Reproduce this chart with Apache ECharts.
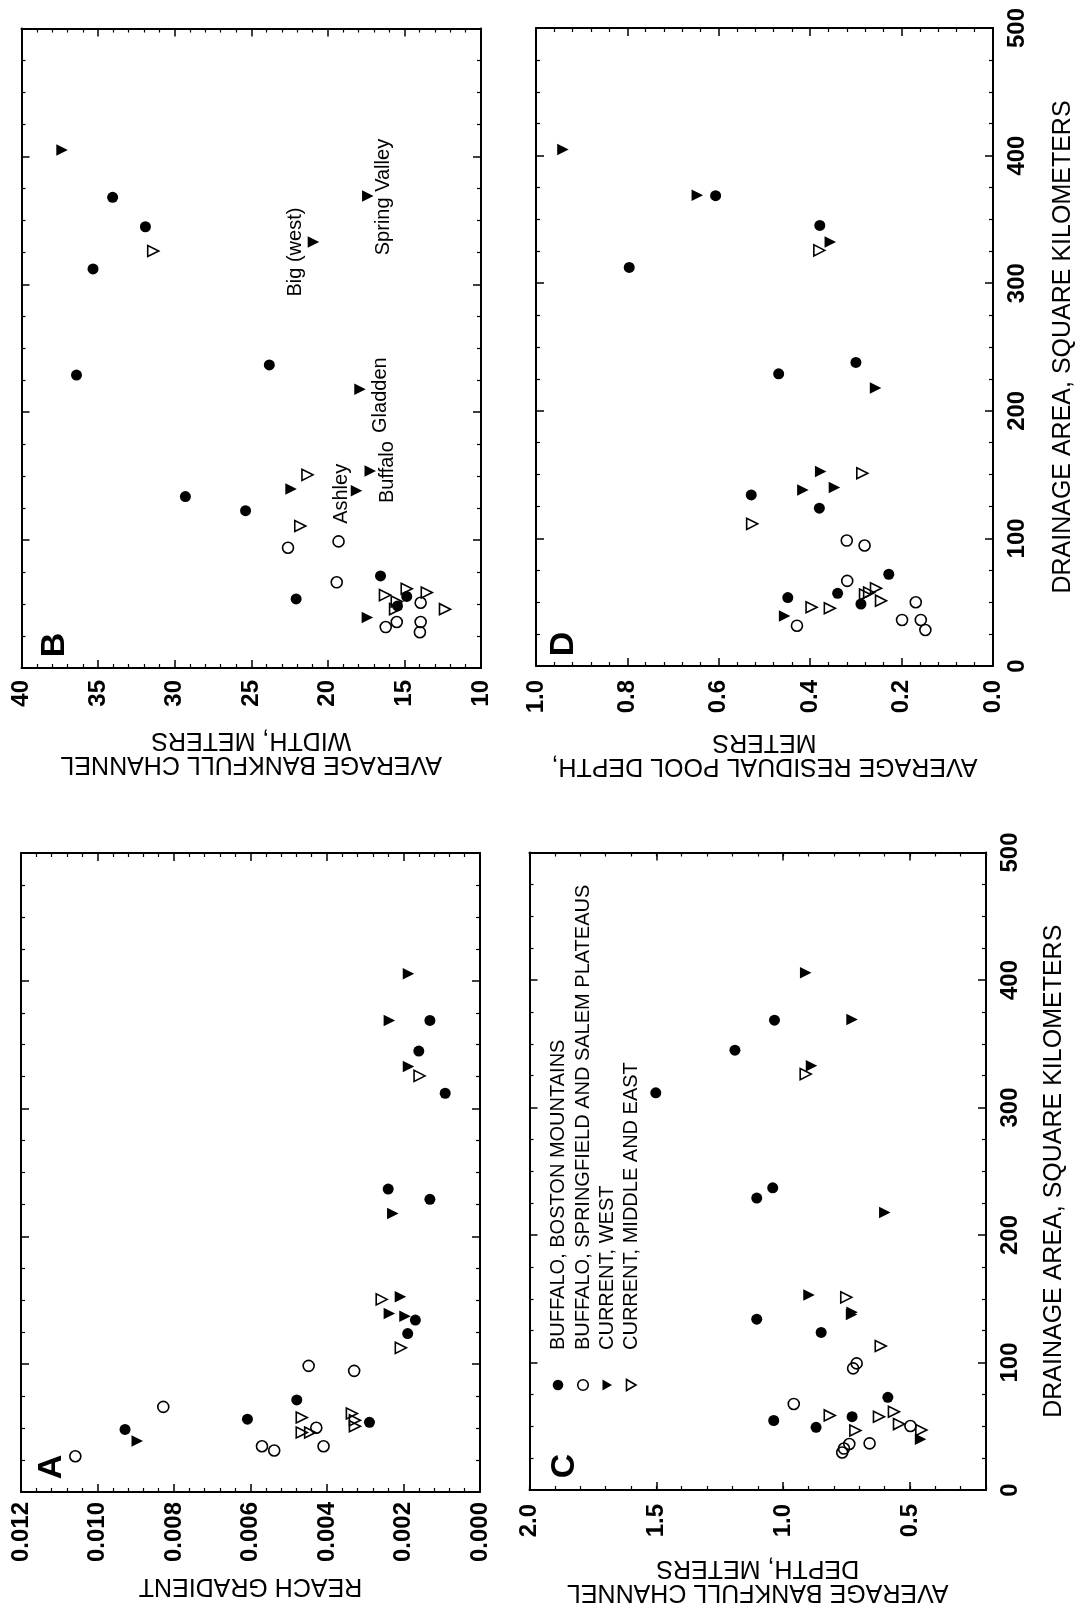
<!DOCTYPE html>
<html>
<head>
<meta charset="utf-8">
<script src="https://cdn.jsdelivr.net/npm/echarts@6/dist/echarts.min.js"></script>
<style>
html,body{margin:0;padding:0;background:#fff;}
#chart{width:1081px;height:1616px;}
</style>
</head>
<body>
<div id="chart"></div>
<script>
// ---------- DATA: [drainage area (km²), measured value] ----------
// A: reach gradient
const bmGradient  = [[369,0.00131],[345,0.00160],[312,0.00091],[237,0.00240],[229,0.00131],[134.5,0.00169],[124,0.00189],[72,0.00479],[57,0.00608],[54.5,0.00289],[49,0.00928]];
const ssGradient  = [[98.7,0.00448],[94.8,0.00329],[66.6,0.00828],[50.3,0.00428],[35.8,0.00570],[32.5,0.00538],[35.8,0.00409],[28,0.01058]];
const cwGradient  = [[405.5,0.00187],[369,0.00237],[333,0.00187],[218,0.00228],[152.7,0.00208],[139.7,0.00237],[137.6,0.00196],[40,0.00896]];
const cmeGradient = [[325.6,0.00158],[150.7,0.00257],[112.8,0.00207],[58.3,0.00466],[61.4,0.00335],[56.2,0.00327],[51.5,0.00327],[46.5,0.00466],[46.5,0.00444]];
// B: average bankfull channel width, meters
const bmWidth  = [[368,34.05],[345,31.91],[312,35.33],[237,23.82],[229,36.41],[134,29.30],[123,25.37],[72,16.56],[56,14.85],[54,22.07],[48.5,15.45]];
const ssWidth  = [[94,22.60],[99,19.30],[67,19.42],[51,13.94],[32,16.22],[36,15.50],[36,13.94],[28,13.99]];
const cwWidth  = [[405,37.35],[369,17.39],[333,20.94],[218,17.9],[154,17.23],[140,22.40],[138.5,18.13],[39.5,17.42]];
const cwWidthNames = ['', 'Spring Valley', 'Big (west)', 'Gladden', 'Buffalo', '', 'Ashley', ''];
const cmeWidth = [[326,31.40],[151,21.33],[111,21.80],[57,16.27],[62,14.85],[59,13.54],[52,15.50],[46,15.61],[46,12.35]];
// C: average bankfull channel depth, meters
const bmDepth  = [[368.5,1.034],[345,1.190],[311.5,1.502],[237,1.041],[229,1.104],[134,1.104],[123.6,0.850],[72.7,0.587],[57.5,0.728],[54.5,1.037],[49.2,0.870]];
const ssDepth  = [[99.3,0.710],[95.4,0.724],[67.5,0.958],[50.2,0.498],[36.1,0.739],[32.5,0.760],[36.6,0.659],[29.4,0.767]];
const cwDepth  = [[405.6,0.911],[369.1,0.728],[332.7,0.888],[217.7,0.599],[152.9,0.898],[139.5,0.728],[137.6,0.730],[39.8,0.458]];
const cmeDepth = [[326.2,0.911],[151.1,0.751],[112.9,0.615],[58.5,0.816],[61.4,0.563],[57.5,0.622],[51.7,0.543],[46.7,0.715],[47,0.455]];
// D: average residual pool depth, meters
const bmPool  = [[368.6,0.607],[345.3,0.379],[312.4,0.796],[237.9,0.300],[229,0.469],[134.1,0.529],[123.7,0.380],[71.9,0.228],[57,0.340],[53.6,0.449],[48.6,0.289]];
const ssPool  = [[98.3,0.320],[94.4,0.281],[66.7,0.319],[50,0.169],[36.1,0.199],[36.1,0.158],[28.2,0.148],[31.6,0.429]];
const cwPool  = [[404.7,0.941],[368.9,0.647],[332.3,0.356],[217.8,0.257],[152.4,0.377],[138,0.416],[139.8,0.347],[39.2,0.456]];
const cmePool = [[325.7,0.380],[151.1,0.286],[111.4,0.527],[57.5,0.271],[60.9,0.256],[56,0.280],[51.2,0.245],[46,0.397],[45.3,0.357]];

const legendLabels = ['BUFFALO, BOSTON MOUNTAINS','BUFFALO, SPRINGFIELD AND SALEM PLATEAUS','CURRENT, WEST','CURRENT, MIDDLE AND EAST'];
const depthTickLabels = [0.5, 1.0, 1.5, 2.0];
const areaTitle = 'DRAINAGE AREA, SQUARE KILOMETERS';

// ---------- STYLE ----------
const FONT = '"Liberation Sans", Arial, Helvetica, sans-serif';
const BLACK = '#000';
const annotationShift = { 'Big (west)': [-18, 10], 'Spring Valley': [16, 1], 'Gladden': [20, 6], 'Buffalo': [17, 1], 'Ashley': [-15, 3] };

const panels = [
  { letter:'A', grid:{left:21, top:853, width:459, height:639},
    x:{min:0, max:0.012, interval:0.002, minorSplit:5, fmt:v=>v.toFixed(3), name:'REACH GRADIENT', nameGap:82, margin:10},
    areaLabels:false, data:[bmGradient, ssGradient, cwGradient, cmeGradient] },
  { letter:'B', grid:{left:21.5, top:28.5, width:459.5, height:639.5},
    x:{min:10, max:40, interval:5, minorSplit:5, fmt:v=>String(v), name:'AVERAGE BANKFULL CHANNEL\nWIDTH, METERS', nameGap:60, margin:12},
    areaLabels:false, data:[bmWidth, ssWidth, cwWidth, cmeWidth], names:[null,null,cwWidthNames,null] },
  { letter:'C', grid:{left:529.5, top:852.5, width:456.5, height:637.5},
    x:{min:0.2, max:2.0, interval:0.1, minorSplit:0, tickValues:depthTickLabels, labelValues:depthTickLabels, extraMinor:true, fmt:v=>v.toFixed(1), name:'AVERAGE BANKFULL CHANNEL\nDEPTH, METERS', nameGap:66, margin:14},
    areaLabels:true, areaNameGap:56, data:[bmDepth, ssDepth, cwDepth, cmeDepth] },
  { letter:'D', grid:{left:536, top:28, width:457, height:638},
    x:{min:0, max:1.0, interval:0.2, minorSplit:5, fmt:v=>v.toFixed(1), name:'AVERAGE RESIDUAL POOL DEPTH,\nMETERS', nameGap:64, margin:14},
    areaLabels:true, areaNameGap:58, data:[bmPool, ssPool, cwPool, cmePool] }
];

const markerStyles = [
  { symbol:'circle', symbolSize:11, itemStyle:{color:BLACK, opacity:1} },
  { symbol:'circle', symbolSize:11, itemStyle:{color:'rgba(255,255,255,0)', borderColor:BLACK, borderWidth:1.6, opacity:1} },
  { symbol:'triangle', symbolSize:11.5, symbolRotate:-90, itemStyle:{color:BLACK, opacity:1} },
  { symbol:'triangle', symbolSize:11, symbolRotate:-90, itemStyle:{color:'rgba(255,255,255,0)', borderColor:BLACK, borderWidth:1.6, opacity:1} }
];

function hAxis(g, pos, c, main) {
  return {
    gridIndex:g, type:'value', position:pos, inverse:true,
    min:c.min, max:c.max, interval:c.interval,
    axisLine:{show:true, onZero:false, lineStyle:{color:BLACK, width:2}},
    axisTick:{show:true, inside:true, length:8, lineStyle:{color:BLACK, width:1.5}, customValues:c.tickValues},
    minorTick:{show:c.minorSplit>0, splitNumber:c.minorSplit||5, length:4, lineStyle:{color:BLACK, width:1.2}},
    axisLabel:{show:main, rotate:90, margin:c.margin, fontSize:24, fontWeight:'bold', color:BLACK, fontFamily:FONT, formatter:c.fmt, customValues:c.labelValues},
    splitLine:{show:false}, minorSplitLine:{show:false},
    name: main ? c.name : '', nameLocation:'middle', nameGap:c.nameGap, nameRotate:180,
    nameTextStyle:{fontSize:25, color:BLACK, fontFamily:FONT, lineHeight:24},
    silent:true
  };
}
function minorAxis(g, pos, c) {
  return {
    gridIndex:g, type:'value', position:pos, inverse:true,
    min:c.min, max:c.max, interval:c.interval,
    axisLine:{show:false, onZero:false},
    axisTick:{show:true, inside:true, length:4, lineStyle:{color:BLACK, width:1.2}},
    axisLabel:{show:false}, splitLine:{show:false}, silent:true
  };
}
function vAxis(g, pos, showLabels, nameGap) {
  return {
    gridIndex:g, type:'value', position:pos, min:0, max:500, interval:100,
    axisLine:{show:true, onZero:false, lineStyle:{color:BLACK, width:2}},
    axisTick:{show:true, inside:true, length:8, lineStyle:{color:BLACK, width:1.5}},
    minorTick:{show:true, splitNumber:4, length:4, lineStyle:{color:BLACK, width:1.2}},
    axisLabel:{show:showLabels, rotate:90, margin:12, fontSize:24, fontWeight:'bold', color:BLACK, fontFamily:FONT},
    splitLine:{show:false}, minorSplitLine:{show:false},
    name: showLabels ? areaTitle : '', nameLocation:'middle', nameGap:nameGap||50, nameRotate:90,
    nameTextStyle:{fontSize:25, color:BLACK, fontFamily:FONT},
    silent:true
  };
}

const grids = [], xAxes = [], yAxes = [], series = [];
panels.forEach((p, g) => {
  grids.push(Object.assign({containLabel:false}, p.grid));
  const xb = xAxes.length;
  xAxes.push(hAxis(g, 'bottom', p.x, true));
  xAxes.push(hAxis(g, 'top', p.x, false));
  if (p.x.extraMinor) { xAxes.push(minorAxis(g, 'bottom', p.x)); xAxes.push(minorAxis(g, 'top', p.x)); }
  const yr = yAxes.length;
  yAxes.push(vAxis(g, 'right', p.areaLabels, p.areaNameGap));
  yAxes.push(vAxis(g, 'left', false));
  p.data.forEach((arr, i) => {
    const names = p.names && p.names[i];
    const data = arr.map(([a, v], k) => {
      const nm = names ? names[k] : '';
      if (!nm) return [v, a];
      const s = annotationShift[nm] || [0, 0];
      return { value:[v, a], name:nm, label:{ show:true, formatter:nm, position:'inside', rotate:90,
        align:'center', verticalAlign:'middle', offset:[-s[1], s[0]], fontSize:20, color:BLACK, fontFamily:FONT } };
    });
    series.push(Object.assign({ type:'scatter', name:legendLabels[i], xAxisIndex:xb, yAxisIndex:yr, silent:true, z:3 + i, data:data }, markerStyles[i]));
  });
});

// panel letters and legend (decorations)
const letterPos = { A:[52,1467], B:[55,645], C:[565,1466], D:[564,644] };
const graphic = [];
panels.forEach(p => {
  const [x, y] = letterPos[p.letter];
  graphic.push({ type:'text', x:x, y:y, rotation:Math.PI/2, silent:true,
    style:{ text:p.letter, fontSize:34, fontWeight:'bold', fontFamily:FONT, fill:BLACK,
      align:'center', verticalAlign:'middle', textAlign:'center', textVerticalAlign:'middle' } });
});
const legendX = [558, 583, 607, 631], legendSymY = 1385;
legendLabels.forEach((t, i) => {
  const x = legendX[i];
  const open = (i % 2 === 1);
  const st = open ? { fill:'none', stroke:BLACK, lineWidth:1.6 } : { fill:BLACK };
  if (i < 2) graphic.push({ type:'circle', silent:true, shape:{ cx:x, cy:legendSymY, r:5.3 }, style:st });
  else graphic.push({ type:'polygon', silent:true, shape:{ points:[[x-4.5, legendSymY-5.5],[x-4.5, legendSymY+5.5],[x+5, legendSymY]] }, style:st });
  graphic.push({ type:'text', x:x, y:1350, rotation:Math.PI/2, silent:true,
    style:{ text:t, fontSize:20, fontFamily:FONT, fill:BLACK, align:'left', verticalAlign:'middle', textAlign:'left', textVerticalAlign:'middle' } });
});

const chart = echarts.init(document.getElementById('chart'), null, { renderer:'canvas' });
chart.setOption({
  backgroundColor:'#fff', animation:false,
  grid:grids, xAxis:xAxes, yAxis:yAxes, series:series, graphic:graphic
});
</script>
</body>
</html>
